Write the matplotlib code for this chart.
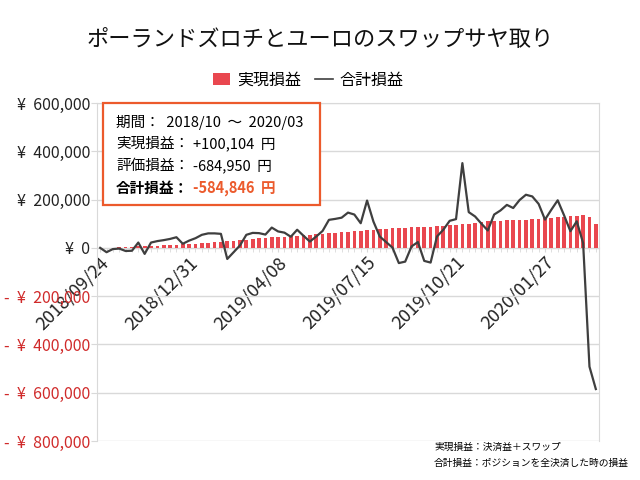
import pandas as pd
import matplotlib
matplotlib.use('Agg')
import matplotlib.pyplot as plt
from matplotlib.patches import Rectangle, Patch
from matplotlib.lines import Line2D

# フォント設定
plt.rcParams['font.family'] = ['Noto Sans CJK JP', 'DejaVu Sans']
plt.rcParams['axes.unicode_minus'] = False

# 配色
bar_color = '#E9474F'
line_color = '#3F3F3F'
grid_color = '#D9D9D9'
accent_color = '#EC5A2C'
neg_color = '#D02A2A'

# 週次データ（2018/09/24 〜 2020/03/23）
dates = pd.date_range('2018-09-24', periods=79, freq='7D')
date_labels = [d.strftime('%Y/%m/%d') for d in dates]

# 実現損益（千円）
realized_k = [0, 0, 0, 2, 3, 5, 6, 7, 8, 9,
              10, 12, 13, 14, 16, 17, 19, 21, 24, 26,
              28, 30, 32, 34, 36, 39, 41, 43, 45, 47,
              49, 51, 53, 55, 57, 59, 61, 63, 65, 67,
              69, 71, 73, 75, 77, 79, 81, 82, 84, 85,
              86, 87, 88, 90, 92, 94, 96, 98, 100, 104,
              108, 110, 112, 113, 114, 115, 116, 117, 118, 120,
              122, 124, 126, 128, 132, 134, 135, 126, 100.104]

# 合計損益（千円）
total_k = [0, -18, -5, -3, -13, -12, 22, -25, 22, 28,
           32, 37, 44, 17, 30, 40, 54, 60, 60, 58,
           -46, -18, 10, 54, 62, 61, 55, 84, 68, 63,
           46, 75, 50, 26, 47, 70, 116, 120, 125, 146,
           138, 102, 196, 109, 47, 24, 1, -63, -57, 6,
           24, -54, -61, 47, 75, 112, 119, 351, 148, 130,
           100, 72, 138, 155, 178, 165, 198, 220, 213, 182,
           117, 158, 197, 135, 69, 110, 20, -492, -584.846]

realized = [v * 1000 for v in realized_k]
total = [v * 1000 for v in total_k]

y_ticks = [-800000, -600000, -400000, -200000, 0, 200000, 400000, 600000]
y_labels = ['-  ¥  800,000', '-  ¥  600,000', '-  ¥  400,000', '-  ¥  200,000',
            '¥  0', '¥  200,000', '¥  400,000', '¥  600,000']

# 図の作成
fig = plt.figure(figsize=(6.4, 4.8), dpi=100)
fig.patch.set_facecolor('white')
ax = fig.add_axes([97 / 640, 1 - 441 / 480, 502 / 640, 338 / 480])

x = list(range(len(dates)))
ax.bar(x, realized, width=0.58, color=bar_color, zorder=2)
ax.plot(x, total, color=line_color, linewidth=1.6, zorder=3)

ax.set_xlim(-0.5, len(dates) - 0.5)
ax.set_ylim(-800000, 600000)

# y軸
ax.set_yticks(y_ticks)
ax.set_yticklabels(y_labels, fontsize=11.5)
for lab, v in zip(ax.get_yticklabels(), y_ticks):
    lab.set_color(neg_color if v < 0 else '#222222')
ax.tick_params(axis='y', length=4, color=grid_color, pad=1)
ax.grid(axis='y', color=grid_color, linewidth=1, zorder=0)

# x軸（0の位置）
ax.spines['bottom'].set_position(('data', 0))
ax.spines['bottom'].set_color(grid_color)
ax.spines['bottom'].set_zorder(1)
for s in ['left', 'right', 'top']:
    ax.spines[s].set_color(grid_color)
major = x[::14]
ax.set_xticks(major)
ax.set_xticklabels([date_labels[i] for i in major], rotation=45, ha='right',
                   va='top', rotation_mode='anchor', fontsize=13, color='#222222')
ax.set_xticks(x, minor=True)
ax.tick_params(axis='x', which='both', length=3, color=grid_color, pad=1)

# タイトルと凡例
fig.text(0.5, 1 - 40 / 480, 'ポーランドズロチとユーロのスワップサヤ取り',
         ha='center', va='center', fontsize=16, color='#111111')
handles = [Patch(facecolor=bar_color, edgecolor='none'),
           Line2D([], [], color=line_color, linewidth=1.2)]
fig.legend(handles, ['実現損益', '合計損益'], loc='center', ncol=2,
           bbox_to_anchor=(308 / 640, 1 - 80 / 480), frameon=False,
           fontsize=11.5, handlelength=1.1, handleheight=0.7,
           handletextpad=0.4, columnspacing=0.9)

# 損益の囲み
fig.add_artist(Rectangle((103 / 640, 1 - 205 / 480), 217 / 640, 102 / 480,
                         transform=fig.transFigure, facecolor='white',
                         edgecolor=accent_color, linewidth=1.6, zorder=5))
box_fs = 10.5
fig.text(116 / 640, 1 - 122 / 480, '期間：  2018/10  ～  2020/03', fontsize=box_fs,
         va='center', zorder=6)
fig.text(116 / 640, 1 - 144 / 480, '実現損益：', fontsize=box_fs, va='center', zorder=6)
fig.text(193 / 640, 1 - 144 / 480, '+100,104  円', fontsize=box_fs, va='center', zorder=6)
fig.text(116 / 640, 1 - 166 / 480, '評価損益：', fontsize=box_fs, va='center', zorder=6)
fig.text(193 / 640, 1 - 166 / 480, '-684,950  円', fontsize=box_fs, va='center', zorder=6)
fig.text(116 / 640, 1 - 188 / 480, '合計損益：', fontsize=box_fs, va='center',
         fontweight='bold', zorder=6)
fig.text(193 / 640, 1 - 188 / 480, '-584,846  円', fontsize=box_fs, va='center',
         fontweight='bold', color=accent_color, zorder=6)

# 注釈
fig.text(434 / 640, 1 - 447 / 480, '実現損益：決済益＋スワップ', fontsize=7, va='center')
fig.text(434 / 640, 1 - 463 / 480, '合計損益：ポジションを全決済した時の損益', fontsize=7, va='center')

plt.savefig('out.png', dpi=100)
